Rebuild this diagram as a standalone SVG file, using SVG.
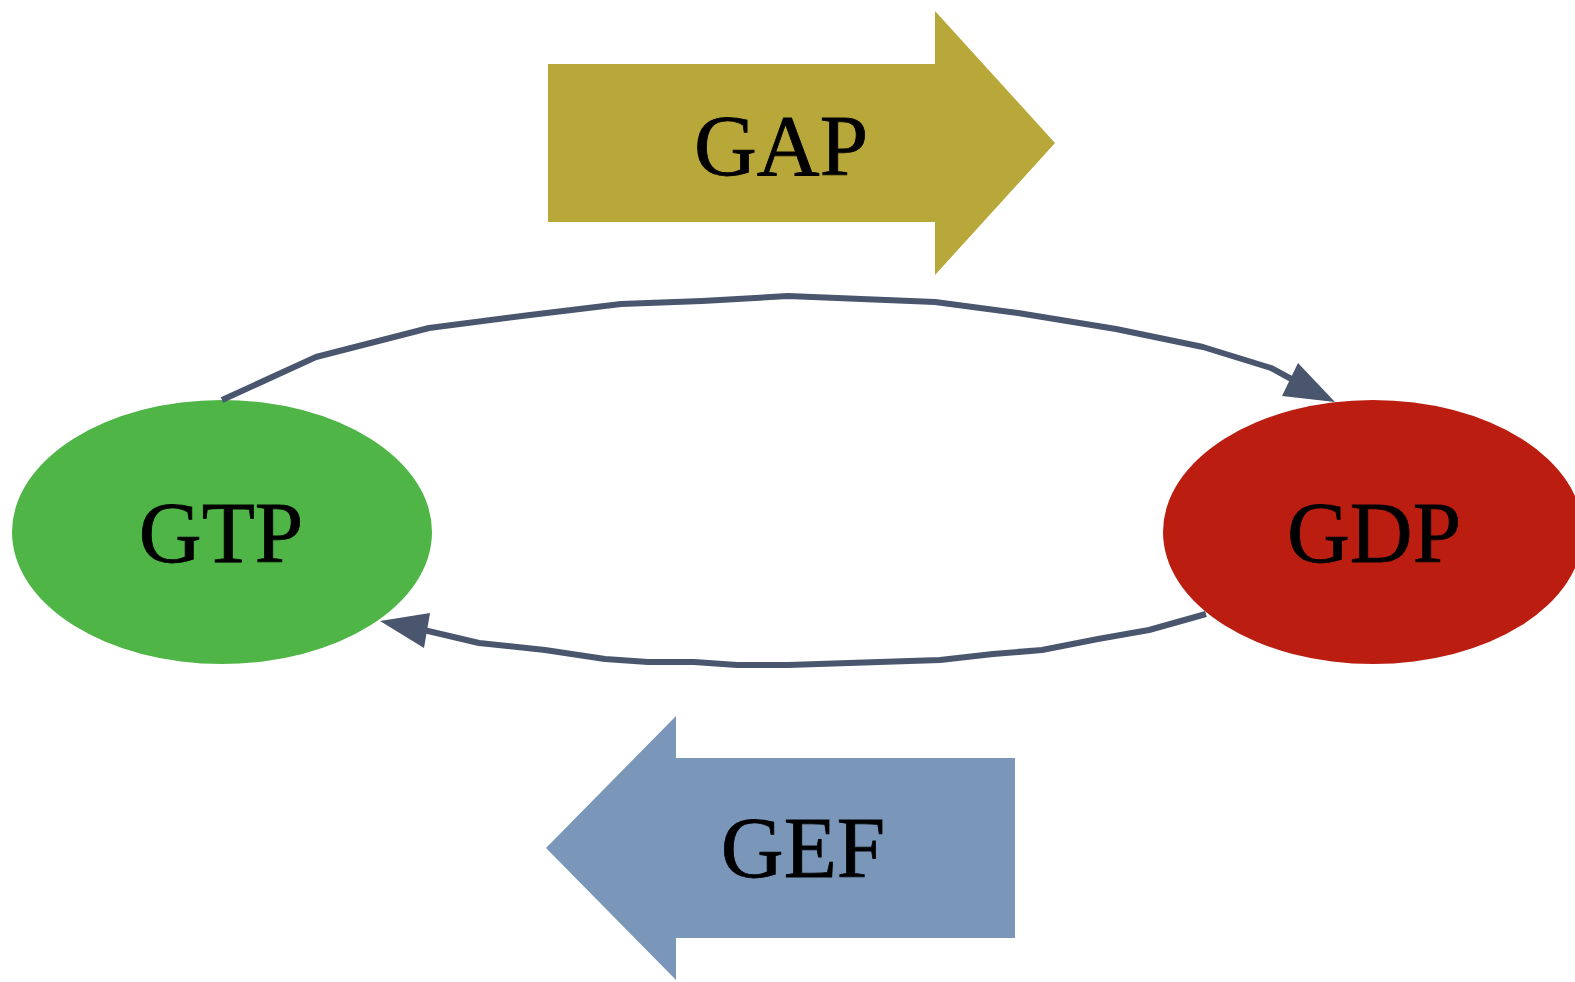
<svg xmlns="http://www.w3.org/2000/svg" width="1575" height="982" viewBox="0 0 1575 982">
<style>
.lbl{font-family:"Liberation Serif","DejaVu Serif",serif;font-size:87px;fill:#000;text-anchor:middle;stroke:#000;stroke-width:0.8}
.edge{fill:none;stroke:#4a566e;stroke-width:6;stroke-linejoin:round}
.head{fill:#4a566e;stroke:none}
</style>
<rect width="1575" height="982" fill="#fff"/>
<g id="gap">
<polygon points="548,64 935,64 935,11 1055,143 935,275 935,222 548,222" fill="#b8a83a"/>
<text class="lbl" x="781" y="175">GAP</text>
</g>
<g id="gef">
<polygon points="1015,758 676,758 676,716 546,848 676,980 676,938 1015,938" fill="#7a97ba"/>
<text class="lbl" x="803" y="877">GEF</text>
</g>
<g id="gtp">
<ellipse cx="222" cy="532" rx="210" ry="132" fill="#4eb546"/>
<text class="lbl" x="221" y="562">GTP</text>
</g>
<g id="gdp">
<ellipse cx="1373" cy="532" rx="210" ry="132" fill="#bb1e10"/>
<text class="lbl" x="1374" y="562">GDP</text>
</g>
<g id="connectors">
<polyline class="edge" points="222,400 316,357 429,328 530,315 621,304 702,301 788,296 935,302 1018,313 1116,329 1203,347 1271,368 1295,381"/>
<polygon class="head" points="1282,396 1298,363 1335,402"/>
<polyline class="edge" points="1206,614 1149,630 1098,639 1042,650 993,654 940,660 788,665 737,665 694,662 648,662 605,659 545,650 479,643 428,631 420,629"/>
<polygon class="head" points="430,613 424,648 380,621"/>
</g>
</svg>
